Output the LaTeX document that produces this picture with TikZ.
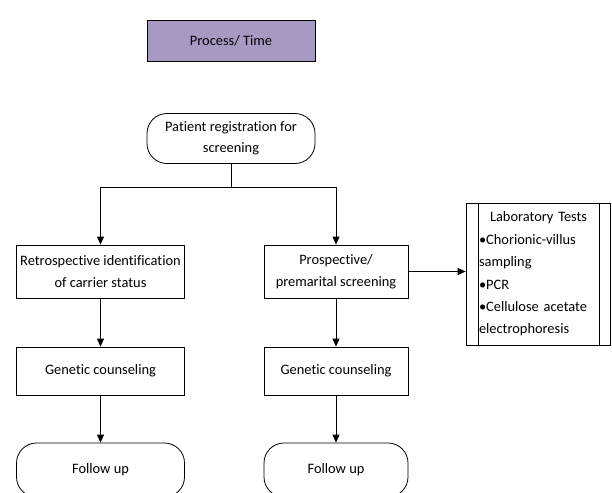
\documentclass[tikz,border=0pt]{standalone}
\usepackage{fontspec}
\setmainfont{Carlito}[Ligatures=NoCommon]
\usetikzlibrary{arrows.meta}
\definecolor{titlepurple}{RGB}{167,153,193}
\begin{document}
\begin{tikzpicture}[x=1pt,y=-1pt,
    every node/.style={font=\fontsize{14.4}{21.5}\selectfont, align=center, inner sep=1pt},
    box/.style={draw, line width=0.8pt, rectangle, minimum width=#1, minimum height=50pt},
    box/.default=168pt,
    terminal/.style={draw, line width=0.8pt, rectangle, rounded corners=20pt, minimum width=#1, minimum height=54pt},
    terminal/.default=168pt,
    arrow/.style={line width=0.8pt, -{Triangle[width=7pt,length=8pt]}}]
    \useasboundingbox (0,0) rectangle (612,492);
    % Title
    \node[box, fill=titlepurple, minimum height=41pt] (title) at (231,40.5) {Process/ Time};
    % Start
    \node[terminal, minimum height=50pt] (reg) at (231,138.5) {Patient registration for\\ screening};
    % Two branches
    \node[box, minimum height=53pt] (retro) at (100.5,271.5) {Retrospective identification\\ of carrier status};
    \node[box=144pt, minimum height=53pt] (prosp) at (336,271.5) {Prospective/\\ premarital screening};
    \node[box, minimum height=48pt] (gen1) at (100.5,371) {Genetic counseling};
    \node[box=144pt, minimum height=48pt] (gen2) at (336,371) {Genetic counseling};
    \node[terminal] (fol1) at (100.5,470) {Follow up};
    \node[terminal=144pt] (fol2) at (336,470) {Follow up};
    % Laboratory tests
    \node[box=144pt, minimum height=142pt, text width=118pt, align=left,
          font=\fontsize{14.4}{22.4}\selectfont] (lab) at (538,274)
        {\hspace*{11pt}Laboratory Tests\\ \textbullet Chorionic-villus\\ sampling\\ \textbullet PCR\\ \textbullet Cellulose acetate\\ electrophoresis};
    \draw[line width=0.8pt] ([xshift=13pt]lab.north west) -- ([xshift=13pt]lab.south west);
    \draw[line width=0.8pt] ([xshift=-11pt]lab.north east) -- ([xshift=-11pt]lab.south east);
    % Connectors
    \coordinate (split) at (231,187);
    \draw[line width=0.8pt] (reg.south) -- (split);
    \draw[arrow] (split) -| (retro.north);
    \draw[arrow] (split) -| (prosp.north);
    \draw[arrow] (retro) -- (gen1);
    \draw[arrow] (gen1) -- (fol1);
    \draw[arrow] (prosp) -- (gen2);
    \draw[arrow] (gen2) -- (fol2);
    \draw[arrow] (prosp) -- (lab.west |- prosp);
\end{tikzpicture}
\end{document}
